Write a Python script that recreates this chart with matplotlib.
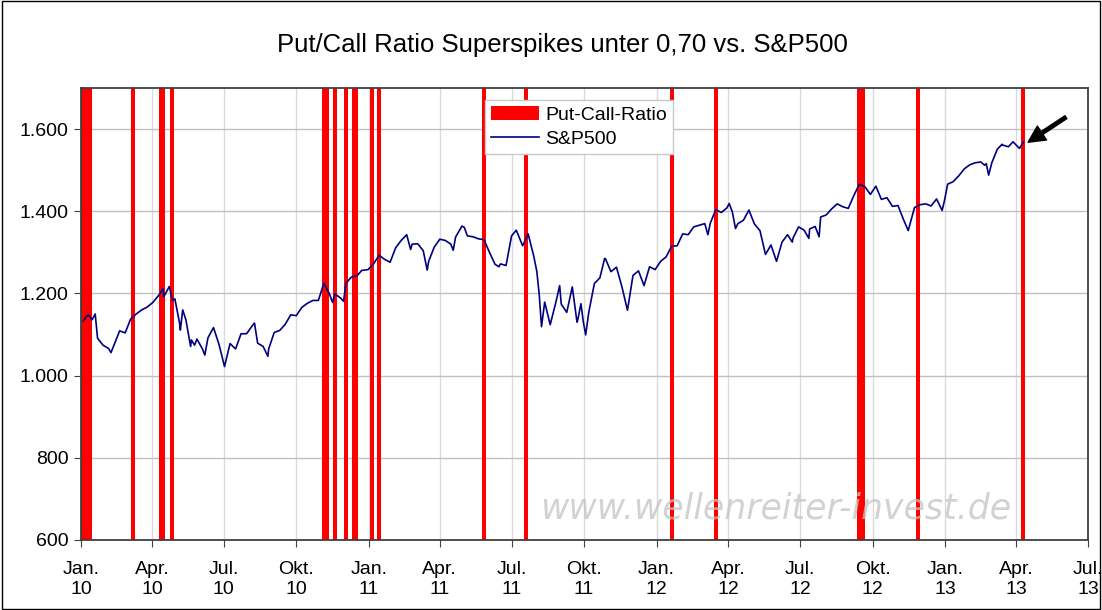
import matplotlib
matplotlib.use("Agg")
import matplotlib.pyplot as plt
from matplotlib.patches import Rectangle
from matplotlib.ticker import FuncFormatter, MultipleLocator
import pandas as pd

# --- Daten ---
# Tage mit Put/Call-Ratio unter 0,70 (Superspikes)
spike_dates = [
    "2010-01-04", "2010-01-06", "2010-01-08", "2010-01-11", "2010-01-13",
    "2010-03-08", "2010-04-12", "2010-04-15", "2010-04-26",
    "2010-11-05", "2010-11-09", "2010-11-19", "2010-12-03",
    "2010-12-13", "2010-12-16", "2011-01-05", "2011-01-14",
    "2011-05-27", "2011-07-19", "2012-01-20", "2012-03-16",
    "2012-09-14", "2012-09-19", "2012-11-27", "2013-04-10",
]

# S&P500 (Wochen-Schlusskurse plus einzelne Extremwerte)
sp_dates = [
    "2010-01-04", "2010-01-08", "2010-01-11", "2010-01-15", "2010-01-19", "2010-01-22",
    "2010-01-29", "2010-02-05", "2010-02-08", "2010-02-12", "2010-02-19", "2010-02-26",
    "2010-03-05", "2010-03-12", "2010-03-19", "2010-03-26", "2010-04-02", "2010-04-09",
    "2010-04-15", "2010-04-16", "2010-04-23", "2010-04-27", "2010-04-30", "2010-05-06",
    "2010-05-07", "2010-05-10", "2010-05-14", "2010-05-20", "2010-05-21", "2010-05-25",
    "2010-05-28", "2010-06-04", "2010-06-07", "2010-06-11", "2010-06-18", "2010-06-25",
    "2010-07-02", "2010-07-09", "2010-07-16", "2010-07-23", "2010-07-30", "2010-08-06",
    "2010-08-09", "2010-08-13", "2010-08-20", "2010-08-26", "2010-08-27", "2010-09-03",
    "2010-09-10", "2010-09-17", "2010-09-24", "2010-10-01", "2010-10-08", "2010-10-15",
    "2010-10-22", "2010-10-29", "2010-11-05", "2010-11-12", "2010-11-16", "2010-11-19",
    "2010-11-26", "2010-11-30", "2010-12-03", "2010-12-10", "2010-12-17", "2010-12-23",
    "2010-12-31",
    "2011-01-07", "2011-01-14", "2011-01-21", "2011-01-28", "2011-02-04", "2011-02-11",
    "2011-02-18", "2011-02-23", "2011-02-25", "2011-03-04", "2011-03-11", "2011-03-16",
    "2011-03-18", "2011-03-25", "2011-04-01", "2011-04-08", "2011-04-15", "2011-04-18",
    "2011-04-21", "2011-04-29", "2011-05-02", "2011-05-06", "2011-05-13", "2011-05-20",
    "2011-05-27", "2011-06-03", "2011-06-10", "2011-06-15", "2011-06-17", "2011-06-24",
    "2011-07-01", "2011-07-07", "2011-07-15", "2011-07-22", "2011-07-29", "2011-08-02",
    "2011-08-05", "2011-08-08", "2011-08-12", "2011-08-19", "2011-08-26", "2011-08-31",
    "2011-09-02", "2011-09-09", "2011-09-16", "2011-09-22", "2011-09-23", "2011-09-27",
    "2011-09-30", "2011-10-03", "2011-10-07", "2011-10-14", "2011-10-21", "2011-10-27",
    "2011-10-28", "2011-11-04", "2011-11-11", "2011-11-18", "2011-11-25", "2011-12-02",
    "2011-12-09", "2011-12-16", "2011-12-23", "2011-12-30",
    "2012-01-06", "2012-01-13", "2012-01-20", "2012-01-27", "2012-02-03", "2012-02-10",
    "2012-02-17", "2012-02-24", "2012-03-02", "2012-03-06", "2012-03-09", "2012-03-16",
    "2012-03-23", "2012-03-30", "2012-04-02", "2012-04-06", "2012-04-10", "2012-04-13",
    "2012-04-20", "2012-04-27", "2012-05-04", "2012-05-11", "2012-05-18", "2012-05-25",
    "2012-06-01", "2012-06-08", "2012-06-15", "2012-06-21", "2012-06-22", "2012-06-29",
    "2012-07-06", "2012-07-12", "2012-07-13", "2012-07-20", "2012-07-25", "2012-07-27",
    "2012-08-03", "2012-08-10", "2012-08-17", "2012-08-24", "2012-08-31", "2012-09-07",
    "2012-09-14", "2012-09-21", "2012-09-28", "2012-10-05", "2012-10-12", "2012-10-19",
    "2012-10-26", "2012-11-02", "2012-11-09", "2012-11-15", "2012-11-16", "2012-11-23",
    "2012-11-30", "2012-12-07", "2012-12-14", "2012-12-21", "2012-12-28", "2012-12-31",
    "2013-01-04", "2013-01-11", "2013-01-18", "2013-01-25", "2013-02-01", "2013-02-08",
    "2013-02-15", "2013-02-20", "2013-02-22", "2013-02-25", "2013-03-01", "2013-03-08",
    "2013-03-14", "2013-03-15", "2013-03-22", "2013-03-28", "2013-04-05", "2013-04-10",
]
sp_values = [
    1133, 1145, 1147, 1136, 1150, 1091,
    1074, 1066, 1056, 1075, 1109, 1104,
    1138, 1150, 1160, 1167, 1178, 1194,
    1211, 1192, 1217, 1183, 1187, 1128,
    1111, 1160, 1136, 1071, 1087, 1074,
    1089, 1065, 1050, 1092, 1117, 1076,
    1022, 1078, 1065, 1102, 1102, 1121,
    1128, 1079, 1071, 1047, 1065, 1105,
    1110, 1125, 1148, 1146, 1166, 1176,
    1183, 1183, 1225, 1199, 1178, 1199,
    1189, 1181, 1225, 1240, 1243, 1256,
    1258,
    1272, 1293, 1283, 1276, 1311, 1329,
    1343, 1307, 1320, 1321, 1304, 1257,
    1279, 1313, 1332, 1329, 1320, 1305,
    1337, 1364, 1361, 1340, 1338, 1333,
    1331, 1300, 1271, 1265, 1272, 1268,
    1340, 1354, 1316, 1345, 1292, 1254,
    1199, 1119, 1179, 1124, 1177, 1219,
    1174, 1154, 1216, 1130, 1136, 1175,
    1131, 1099, 1155, 1224, 1238, 1285,
    1285, 1253, 1264, 1216, 1159, 1244,
    1255, 1219, 1265, 1258,
    1278, 1289, 1315, 1316, 1345, 1343,
    1362, 1366, 1370, 1343, 1371, 1404,
    1397, 1408, 1419, 1398, 1358, 1370,
    1378, 1403, 1369, 1353, 1295, 1318,
    1278, 1325, 1343, 1325, 1335, 1362,
    1354, 1334, 1357, 1363, 1338, 1386,
    1391, 1406, 1418, 1411, 1407, 1438,
    1466, 1460, 1441, 1461, 1429, 1433,
    1412, 1414, 1380, 1353, 1360, 1409,
    1416, 1418, 1413, 1430, 1402, 1426,
    1466, 1472, 1486, 1503, 1513, 1518,
    1520, 1512, 1516, 1488, 1518, 1551,
    1563, 1561, 1557, 1569, 1553, 1568,
]

tick_labels = [
    "Jan.\n10", "Apr.\n10", "Jul.\n10", "Okt.\n10",
    "Jan.\n11", "Apr.\n11", "Jul.\n11", "Okt.\n11",
    "Jan.\n12", "Apr.\n12", "Jul.\n12", "Okt.\n12",
    "Jan.\n13", "Apr.\n13", "Jul.\n13",
]

spikes = pd.to_datetime(spike_dates)
sp = pd.Series(sp_values, index=pd.to_datetime(sp_dates))
ticks = pd.date_range("2010-01-01", "2013-07-01", freq="QS")

plt.rcParams['font.family'] = ['Liberation Sans', 'DejaVu Sans']

fig = plt.figure(figsize=(11.02, 6.10), dpi=100)
ax = fig.add_axes([81 / 1102, 1 - 540 / 610, 1007 / 1102, 452 / 610])

ymin, ymax = 600, 1700
bars = ax.bar(spikes, [ymax - ymin] * len(spikes), bottom=ymin, width=5,
              color='#ff0000', label='Put-Call-Ratio', zorder=2)
line, = ax.plot(sp.index, sp.values, color='#000080', lw=1.2, label='S&P500', zorder=3)

ax.set_xlim(pd.Timestamp("2010-01-01"), pd.Timestamp("2013-07-01"))
ax.set_ylim(ymin, ymax)
ax.set_xticks(ticks)
ax.set_xticklabels(tick_labels, fontsize=14, linespacing=1.25)
ax.yaxis.set_major_locator(MultipleLocator(200))
ax.yaxis.set_major_formatter(FuncFormatter(lambda v, p: f"{int(v):,}".replace(",", ".")))
ax.tick_params(axis='y', labelsize=14, length=5, direction='out', pad=4, color='#404040')
ax.tick_params(axis='x', length=5, direction='out', pad=10, color='#404040')

ax.grid(axis='y', color='#c0c0c0', lw=1)
ax.grid(axis='x', color='#dadada', lw=1)
ax.set_axisbelow(True)
for s in ax.spines.values():
    s.set_color('#404040')
    s.set_linewidth(1.3)

# Titel über der ganzen Grafik zentriert
fig.text(562 / 1102, 1 - 45 / 610, "Put/Call Ratio Superspikes unter 0,70 vs. S&P500",
         ha='center', va='center', fontsize=18.5)

leg = ax.legend([bars, line], ['Put-Call-Ratio', 'S&P500'],
                loc='upper left', bbox_to_anchor=(0.401, 0.973), fontsize=14,
                fancybox=False, framealpha=1, edgecolor='#c8c8c8',
                handlelength=2.5, handleheight=0.75, borderpad=0.3,
                labelspacing=0.3, handletextpad=0.3, borderaxespad=0)
leg.get_frame().set_linewidth(1)

ax.text(0.69, 0.07, "www.wellenreiter-invest.de", transform=ax.transAxes,
        ha='center', va='center', fontsize=25, style='italic',
        family='DejaVu Sans', color='#c4c4c4', alpha=0.75, zorder=4)

ax.annotate('', xy=(pd.Timestamp("2013-04-16"), 1568), xytext=(pd.Timestamp("2013-06-03"), 1629),
            arrowprops=dict(facecolor='black', edgecolor='black', width=2.5,
                            headwidth=12, headlength=12, shrink=0),
            annotation_clip=False, zorder=5)

fig.patches.append(Rectangle((0.002, 0.002), 0.996, 0.996, transform=fig.transFigure,
                             fill=False, edgecolor='black', lw=1))

fig.savefig("out.png", dpi=100)
plt.close(fig)
